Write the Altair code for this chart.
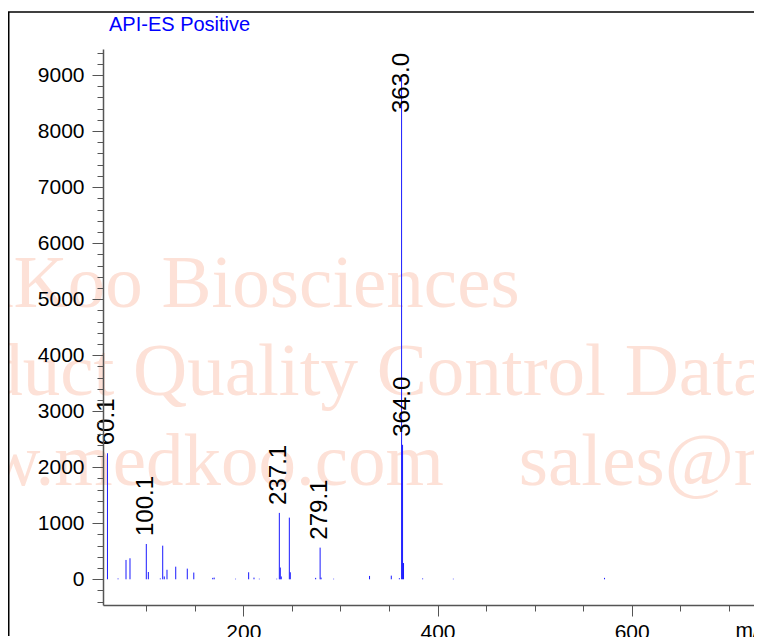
import altair as alt
import pandas as pd

# ---- data ----
mz = [60.1, 71.0, 79.2, 83.3, 100.1, 102.2, 114.5, 117.0, 118.6, 121.4,
      130.4, 142.3, 149.0, 168.5, 170.0, 192.0, 205.5, 211.0, 216.5, 234.4,
      237.1, 238.1, 239.1, 247.4, 248.4, 274.5, 279.1, 280.1, 293.0, 330.0,
      352.4, 360.7, 363.0, 364.0, 365.0, 384.7, 416.3, 572.0]
intensity = [2250, 15, 345, 375, 630, 130, 15, 600, 50, 170,
             225, 190, 120, 25, 30, 10, 125, 30, 10, 10,
             1185, 210, 50, 1100, 125, 25, 565, 30, 10, 60,
             65, 20, 8950, 2400, 290, 15, 10, 25]
labels = ["60.1", "", "", "", "100.1", "", "", "", "", "",
          "", "", "", "", "", "", "", "", "", "",
          "237.1", "", "", "", "", "", "279.1", "", "", "",
          "", "", "363.0", "364.0", "", "", "", ""]

y_major = [0, 1000, 2000, 3000, 4000, 5000, 6000, 7000, 8000, 9000]
y_minor = list(range(-400, 9401, 200))
x_major = [200, 400, 600]
x_minor = list(range(100, 701, 50))

watermark = ["MedKoo Biosciences",
             "Product Quality Control Data",
             "www.medkoo.com\u00a0\u00a0\u00a0\u00a0sales@medkoo.com"]

df = pd.DataFrame({"mz": mz, "intensity": intensity, "label": labels})
one = pd.DataFrame({"k": [0]})

W, H = 651, 556
xscale = alt.Scale(domain=[55.5, 55.5 + W / 0.971], zero=False, nice=False)
yscale = alt.Scale(domain=[-459, 9465], zero=False, nice=False)
FONT = "Liberation Sans"
AX = "#555555"

x_major_axis = alt.Axis(orient="bottom", values=x_major, tickSize=11, tickColor=AX,
                        tickWidth=1, domainColor=AX, domainWidth=1.5, grid=False,
                        labelFont=FONT, labelFontSize=21, labelColor="black",
                        labelPadding=5, labelFlush=False, labelOverlap=False,
                        labelBound=False, format="d", zindex=2,
                        title="m/z", titleFont=FONT, titleFontSize=21,
                        titleFontWeight="normal", titleColor="black",
                        titleX=632, titleY=31, titleAlign="left",
                        titleBaseline="alphabetic", titleAnchor="start")
x_minor_axis = alt.Axis(orient="bottom", values=x_minor, tickSize=6, tickColor=AX,
                        tickWidth=1, domain=False, labels=False, grid=False,
                        title=None, zindex=2)
y_major_axis = alt.Axis(orient="left", values=y_major, tickSize=11, tickColor=AX,
                        tickWidth=1, domainColor=AX, domainWidth=1.5, grid=False,
                        labelFont=FONT, labelFontSize=21, labelColor="black",
                        labelPadding=8, labelOverlap=False, labelBound=False,
                        format="d", title=None, zindex=2)
y_minor_axis = alt.Axis(orient="left", values=y_minor, tickSize=6, tickColor=AX,
                        tickWidth=1, domain=False, labels=False, grid=False,
                        title=None, zindex=2)

base = alt.Chart(df)

wm_layers = [
    alt.Chart(one).mark_text(text=t, font="Liberation Serif", fontSize=75,
                             color="#fde1d7", align="left", baseline="alphabetic")
    .encode(x=alt.value(xx), y=alt.value(yy))
    for t, xx, yy in zip(watermark, [-227, -222, -225], [258, 346, 436])
]

bars = base.mark_rule(color="#1a1aff", strokeWidth=1).encode(
    x=alt.X("mz:Q", scale=xscale, axis=x_major_axis),
    y=alt.Y("intensity:Q", scale=yscale, axis=y_major_axis),
    y2=alt.datum(0),
)

minor = base.mark_rule(strokeOpacity=0).encode(
    x=alt.X("mz:Q", scale=xscale, axis=x_minor_axis),
    y=alt.Y("intensity:Q", scale=yscale, axis=y_minor_axis),
)

peak_labels = base.transform_filter("datum.label != ''").transform_calculate(
    label_y="min(datum.intensity, 8180)"
).mark_text(angle=270, align="left", baseline="middle", dx=8,
            font=FONT, fontSize=24, color="black").encode(
    x=alt.X("mz:Q", scale=xscale, axis=None),
    y=alt.Y("label_y:Q", scale=yscale, axis=None),
    text="label:N",
)

frame_v = alt.Chart(one).mark_rule(color="black", strokeWidth=1.5).encode(
    x=alt.value(-94.25), y=alt.value(-37), y2=alt.value(587))
frame_h = alt.Chart(one).mark_rule(color="black", strokeWidth=1.5).encode(
    x=alt.value(-95), x2=alt.value(W + 20), y=alt.value(-37))

title = alt.Chart(one).mark_text(text="API-ES Positive", font=FONT, fontSize=20,
                                 color="#0000ff", align="left",
                                 baseline="alphabetic").encode(
    x=alt.value(6), y=alt.value(-18.5))

chart = alt.layer(*wm_layers, minor, bars, peak_labels, frame_v, frame_h, title).resolve_axis(
    x="independent", y="independent"
).properties(
    width=W, height=H,
    autosize=alt.AutoSizeParams(type="none"),
    padding={"left": 95, "top": 41, "right": 0, "bottom": 32},
    background="white",
).configure_view(stroke=None, strokeWidth=0)

chart.save("out.html", embed_options={"renderer": "svg", "actions": False})
